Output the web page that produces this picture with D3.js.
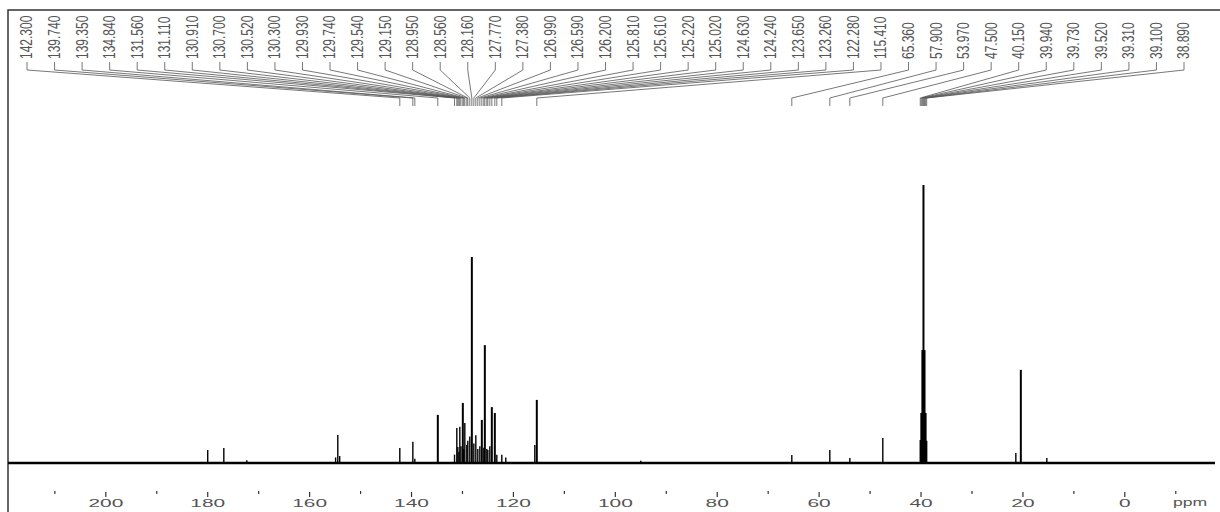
<!DOCTYPE html>
<html>
<head>
<meta charset="utf-8">
<script src="https://cdn.jsdelivr.net/npm/d3@7"></script>
<style>
  body { margin: 0; background: #fff; }
  svg { display: block; }
</style>
</head>
<body>
<div class="spectrumContainer"></div>
<script>
// peak positions (ppm) and heights (% of tallest line)
const peakPpm = [
  180.00, 176.84, 172.33, 154.90, 154.47, 154.10, 142.30, 139.74, 139.35, 134.84,
  131.56, 131.11, 130.91, 130.70, 130.52, 130.30, 129.93, 129.74, 129.54, 129.15,
  128.95, 128.56, 128.16, 127.77, 127.38, 126.99, 126.59, 126.20, 125.81, 125.61,
  125.22, 125.02, 124.63, 124.24, 123.65, 123.26, 122.28, 121.50, 115.80, 115.41,
  95.00, 65.36, 57.90, 53.97, 47.50, 40.15, 39.94, 39.73, 39.52, 39.31,
  39.10, 38.89, 21.39, 20.41, 15.31
];
const peakHeight = [
  4.7, 5.4, 1.0, 2.0, 10.1, 2.5, 5.4, 7.6, 1.5, 17.3,
  3.0, 12.6, 5.8, 4.0, 13.0, 6.0, 21.6, 5.0, 14.4, 6.5,
  8.0, 9.5, 74.1, 7.0, 10.0, 5.0, 6.0, 15.5, 5.5, 42.4,
  5.0, 4.7, 6.0, 20.1, 18.0, 3.0, 3.0, 2.0, 6.5, 22.7,
  0.8, 2.9, 4.7, 1.8, 9.0, 8.3, 18.0, 40.6, 100, 40.6,
  18.0, 8.0, 3.6, 33.5, 1.8
];

// picked peaks printed along the top
const labelPpm = [
  142.300, 139.740, 139.350, 134.840, 131.560, 131.110, 130.910, 130.700,
  130.520, 130.300, 129.930, 129.740, 129.540, 129.150, 128.950, 128.560,
  128.160, 127.770, 127.380, 126.990, 126.590, 126.200, 125.810, 125.610,
  125.220, 125.020, 124.630, 124.240, 123.650, 123.260, 122.280, 115.410,
  65.360, 57.900, 53.970, 47.500, 40.150, 39.940, 39.730, 39.520,
  39.310, 39.100, 38.890
];

// axis ticks
const majorTicks = [200, 180, 160, 140, 120, 100, 80, 60, 40, 20, 0];
const minorTicks = [210, 190, 170, 150, 130, 110, 90, 70, 50, 30, 10, -10];
const axisUnit = "ppm";

const plotSpectrum = () => {
    let width = 1220;
    let height = 512;

    let x = d3.scaleLinear()
                .domain([219.2, -17.7])
                .range([8, 1215]);

    let y = d3.scaleLinear()
                .domain([0, 100])
                .range([463, 185]);

    let labelX = d3.scalePoint()
                .domain(d3.range(labelPpm.length))
                .range([27, 1184]);

    const svg = d3.select('.spectrumContainer').append("svg")
        .attr("width", width)
        .attr("height", height)
        .attr("viewBox", [0, 0, width, height]);

    // frame (left and top only)
    svg.append("path")
        .attr("d", `M8,${height} L8,10 L${width},10`)
        .attr("fill", "none")
        .attr("stroke", "#333")
        .attr("stroke-width", 1.5);

    // baseline
    svg.append("path")
        .datum(x.domain())
        .attr("d", d3.line().x(d => x(d)).y(() => y(0)))
        .attr("stroke", "#000")
        .attr("stroke-width", 2.5);

    // peak lines
    svg.append("g")
        .selectAll("line")
        .data(peakPpm)
        .join("line")
        .attr("x1", d => x(d))
        .attr("x2", d => x(d))
        .attr("y1", y(0))
        .attr("y2", (d, i) => y(peakHeight[i]))
        .attr("stroke", "#000")
        .attr("stroke-width", (d, i) => peakHeight[i] > 15 ? 2 : 1.4);

    // leader lines from labels to peaks
    svg.append("g")
        .selectAll("path")
        .data(labelPpm)
        .join("path")
        .attr("d", (d, i) => {
            let lx = labelX(i);
            let px = x(d);
            return `M${lx},62 L${lx},70 L${px},98 L${px},106`;
        })
        .attr("fill", "none")
        .attr("stroke", "#555")
        .attr("stroke-width", 0.8);

    // peak labels, vertical
    svg.append("g")
        .selectAll("text")
        .data(labelPpm)
        .join("text")
        .attr("transform", (d, i) => `translate(${labelX(i)},59) scale(1.3,1) rotate(-90)`)
        .attr("dy", "0.35em")
        .attr("text-anchor", "start")
        .attr("font-family", "Liberation Sans, Arial, sans-serif")
        .attr("font-size", 12)
        .attr("fill", "#555")
        .text(d => d.toFixed(3));

    // bottom axis
    let axis = svg.append("g");

    axis.selectAll(".major")
        .data(majorTicks)
        .join("line")
        .attr("class", "major")
        .attr("x1", d => x(d))
        .attr("x2", d => x(d))
        .attr("y1", 492)
        .attr("y2", 497)
        .attr("stroke", "#333")
        .attr("stroke-width", 1.2);

    axis.selectAll(".minor")
        .data(minorTicks)
        .join("line")
        .attr("class", "minor")
        .attr("x1", d => x(d))
        .attr("x2", d => x(d))
        .attr("y1", 491)
        .attr("y2", 494)
        .attr("stroke", "#333")
        .attr("stroke-width", 1.2);

    axis.selectAll("text")
        .data(majorTicks)
        .join("text")
        .attr("transform", d => `translate(${x(d)},507) scale(1.9,1)`)
        .attr("text-anchor", "middle")
        .attr("font-family", "Liberation Sans, Arial, sans-serif")
        .attr("font-size", 11)
        .attr("fill", "#555")
        .text(d => d);

    axis.append("text")
        .attr("transform", `translate(${x(-12.8)},506) scale(1.6,1)`)
        .attr("text-anchor", "middle")
        .attr("font-family", "Liberation Sans, Arial, sans-serif")
        .attr("font-size", 11)
        .attr("fill", "#555")
        .text(axisUnit);
};

plotSpectrum();
</script>
</body>
</html>
